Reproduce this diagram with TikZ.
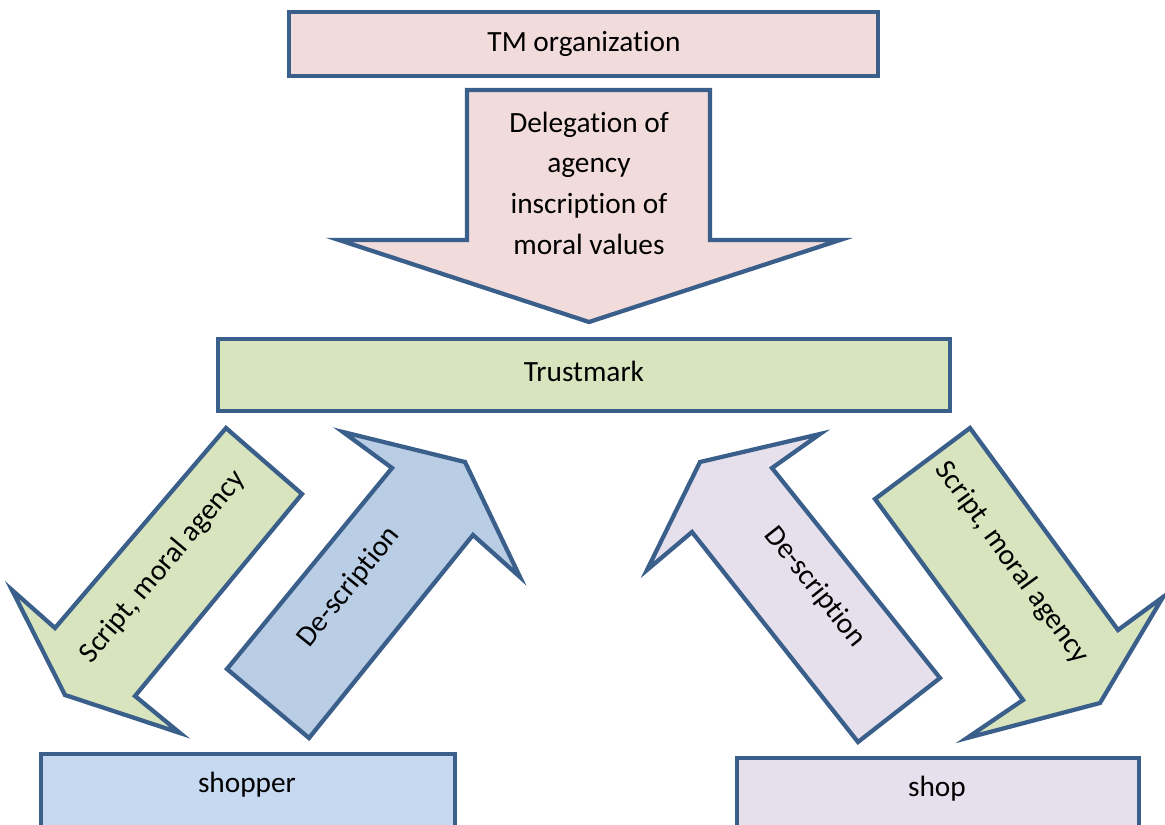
\documentclass[tikz,border=0pt]{standalone}
\usepackage{fontspec}
\setmainfont{Carlito}[RawFeature={-liga;-clig;-calt;-dlig}]
\usetikzlibrary{calc}
\definecolor{edgeblue}{HTML}{3A5F8B}
\definecolor{tmpink}{HTML}{F2DCDB}
\definecolor{markgreen}{HTML}{D7E4BD}
\definecolor{descblue}{HTML}{B9CDE5}
\definecolor{shopperblue}{HTML}{C6D9F1}
\definecolor{shoplilac}{HTML}{E5E0EC}

\begin{document}
\begin{tikzpicture}[x=0.75pt, y=-0.75pt,
        block/.style={draw=edgeblue, line width=3.2pt, line join=miter},
        boxtext/.style={font=\fontsize{22}{30.5}\selectfont, align=center, text=black}]
        \clip (0,0) rectangle (1165,825);

        % boxes
        \filldraw[block, fill=tmpink] (289,12) rectangle (878,76);
        \node[boxtext] (tmorg) at (584,44) {TM organization};

        \filldraw[block, fill=markgreen] (218,339) rectangle (950,411);
        \node[boxtext] (trustmark) at (584,371) {Trustmark};

        \filldraw[block, fill=shopperblue] (41,754) rectangle (455,840);
        \node[boxtext] (shopper) at (247,785) {shopper};

        \filldraw[block, fill=shoplilac] (737,758) rectangle (1139,840);
        \node[boxtext] (shop) at (937,789) {shop};

        % delegation arrow
        \filldraw[block, fill=tmpink] (467,90) -- (710,90) -- (710,240) -- (840,240)
            -- (589,322) -- (339,240) -- (467,240) -- cycle;
        \node[boxtext] (delegation) at (589,183) {Delegation of\\agency\\inscription of\\moral values};

        % shopper side
        \filldraw[block, fill=markgreen] (226,428) -- (302,494) -- (135,696) -- (180,733)
            -- (65,695) -- (12,590) -- (55,628) -- cycle;
        \node[boxtext, rotate=50] (scriptl) at (163,567) {Script, moral agency};

        \filldraw[block, fill=descblue] (227,669) -- (392,468) -- (343,432) -- (465,462)
            -- (520,577) -- (473,535) -- (309,738) -- cycle;
        \node[boxtext, rotate=51] (descl) at (349,587) {De-scription};

        % shop side
        \filldraw[block, fill=shoplilac] (700,462) -- (820,434) -- (772,468) -- (940,678)
            -- (858,742) -- (692,532) -- (647,570) -- cycle;
        \node[boxtext, rotate=-51.5] (descr) at (815,587) {De-scription};

        \filldraw[block, fill=markgreen] (970,428) -- (1118,630) -- (1163,597) -- (1100,703)
            -- (967,738) -- (1023,700) -- (875,499) -- cycle;
        \node[boxtext, rotate=-54] (scriptr) at (1012,563) {Script, moral agency};
    \end{tikzpicture}
\end{document}
